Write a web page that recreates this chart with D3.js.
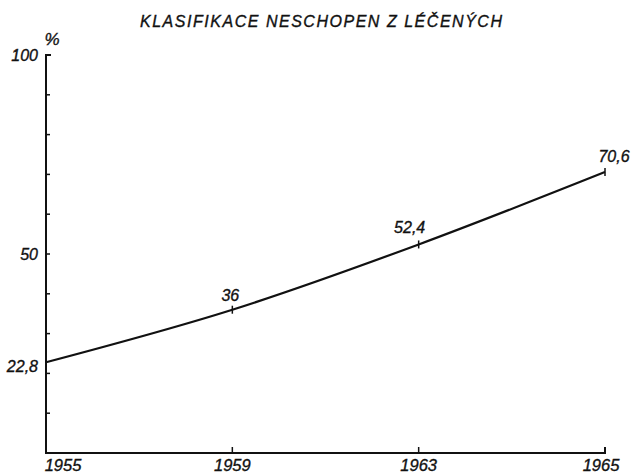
<!DOCTYPE html>
<html>
<head>
<meta charset="utf-8">
<script src="https://cdn.jsdelivr.net/npm/d3@7"></script>
<style>
  html, body { margin: 0; padding: 0; background: #fff; }
  svg { display: block; }
  text { font-family: "Liberation Sans", Arial, sans-serif; font-style: italic; fill: #111; stroke: #111; stroke-width: 0.35px; }
</style>
</head>
<body>
<svg id="chart" width="635" height="474"></svg>
<script>
const title = "KLASIFIKACE NESCHOPEN Z LÉČENÝCH";
const years = ["1955", "1959", "1963", "1965"];
const values = [22.8, 36, 52.4, 70.6];
const valueLabels = ["22,8", "36", "52,4", "70,6"];
const yLabelValues = [100, 50];
const yLabelTexts = ["100", "50"];
const yMinorTicks = [10, 20, 30, 40, 50, 60, 70, 80, 90];
const yUnit = "%";

(function () {
const svg = d3.select("#chart");
const mLeft = 46, mRight = 605, mTop = 55, mBottom = 453;

const x = d3.scalePoint().domain(years).range([mLeft, mRight]);
const y = d3.scaleLinear().domain([0, 100]).range([mBottom, mTop]);

// title
svg.append("text")
  .attr("x", 321).attr("y", 27)
  .attr("text-anchor", "middle")
  .attr("font-size", 16)
  .attr("textLength", 362)
  .attr("lengthAdjust", "spacing")
  .text(title);

const ink = "#111";

// axes
const g = svg.append("g").attr("stroke", ink).attr("fill", "none");
g.append("path")
  .attr("d", `M${mLeft + 5},${y(100)}H${mLeft}V${mBottom}H${mRight}V${mBottom - 6}`)
  .attr("stroke-width", 2);

g.selectAll("line.ytick").data(yMinorTicks).join("line")
  .attr("class", "ytick")
  .attr("x1", mLeft).attr("x2", mLeft + 4)
  .attr("y1", d => y(d)).attr("y2", d => y(d))
  .attr("stroke-width", 1.5);

g.selectAll("line.xtick").data(years.slice(1, -1)).join("line")
  .attr("class", "xtick")
  .attr("x1", d => x(d)).attr("x2", d => x(d))
  .attr("y1", mBottom).attr("y2", mBottom - 6)
  .attr("stroke-width", 1.5);

// y labels
svg.append("text").attr("x", 52).attr("y", 45).attr("text-anchor", "middle")
  .attr("font-size", 17).text(yUnit);
svg.selectAll("text.ylab").data(yLabelValues).join("text")
  .attr("class", "ylab")
  .attr("x", 38).attr("y", d => y(d) + 6)
  .attr("text-anchor", "end")
  .attr("font-size", 16)
  .text((d, i) => yLabelTexts[i]);
// first value label on the axis
svg.append("text").attr("x", 38).attr("y", y(values[0]) + 10)
  .attr("text-anchor", "end").attr("font-size", 16).text(valueLabels[0]);

// x labels
const xOffsets = [17, 0, 0, -4];
svg.selectAll("text.xlab").data(years).join("text")
  .attr("class", "xlab")
  .attr("x", (d, i) => x(d) + xOffsets[i])
  .attr("y", 471)
  .attr("text-anchor", "middle")
  .attr("font-size", 16.5)
  .text(d => d);

// line
const pts = years.map((d, i) => [x(d), y(values[i])]);
svg.append("path")
  .datum(pts)
  .attr("fill", "none")
  .attr("stroke", ink)
  .attr("stroke-width", 2.2)
  .attr("d", d3.line().curve(d3.curveMonotoneX));

// point ticks
svg.selectAll("line.pt").data(pts.slice(1)).join("line")
  .attr("class", "pt")
  .attr("x1", d => d[0]).attr("x2", d => d[0])
  .attr("y1", d => d[1] - 4).attr("y2", d => d[1] + 4)
  .attr("stroke", ink).attr("stroke-width", 1.5);

// value labels
const lblDx = [0, -2, -9, 9];
const lblDy = [0, -9, -11, -10];
svg.selectAll("text.vlab").data(pts.slice(1)).join("text")
  .attr("class", "vlab")
  .attr("x", (d, i) => d[0] + lblDx[i + 1])
  .attr("y", (d, i) => d[1] + lblDy[i + 1])
  .attr("text-anchor", "middle")
  .attr("font-size", 16)
  .text((d, i) => valueLabels[i + 1]);
})();
</script>
</body>
</html>
